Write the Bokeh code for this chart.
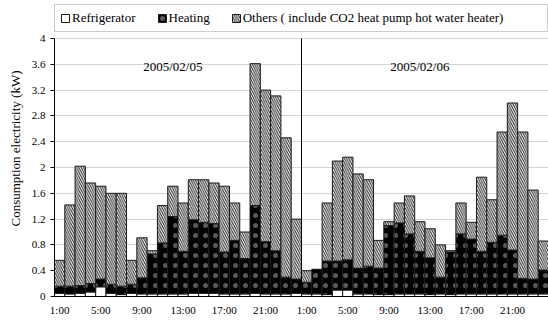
from bokeh.plotting import figure
from bokeh.models import Legend, LegendItem, FixedTicker, ColumnDataSource
from bokeh.embed import file_html
from bokeh.resources import INLINE
from bokeh.core.properties import value

# ---- data ----
refrigerator = [0.05, 0.04, 0.05, 0.07, 0.15, 0.05, 0.03, 0.05, 0.04, 0.04, 0.04, 0.04,
                0.04, 0.05, 0.05, 0.05, 0.04, 0.04, 0.04, 0.05, 0.04, 0.04, 0.04, 0.05,
                0.04, 0.04, 0.03, 0.10, 0.10, 0.04, 0.04, 0.03, 0.03, 0.04, 0.04, 0.04,
                0.03, 0.04, 0.03, 0.04, 0.04, 0.04, 0.04, 0.04, 0.04, 0.04, 0.04, 0.04]
heating = [0.11, 0.12, 0.12, 0.13, 0.12, 0.14, 0.13, 0.14, 0.25, 0.62, 0.79, 1.20,
           0.66, 1.14, 1.10, 1.08, 0.65, 0.83, 0.55, 1.36, 0.81, 0.67, 0.26, 0.22,
           0.18, 0.38, 0.52, 0.45, 0.47, 0.40, 0.43, 0.41, 1.07, 1.10, 0.93, 0.66,
           0.57, 0.26, 0.66, 0.93, 0.85, 0.66, 0.80, 0.91, 0.68, 0.24, 0.23, 0.37]
others = [0.40, 1.26, 1.85, 1.56, 1.44, 1.41, 1.44, 0.37, 0.62, 0.05, 0.58, 0.47,
          0.75, 0.62, 0.66, 0.63, 1.02, 0.58, 0.41, 2.20, 2.35, 2.40, 2.16, 0.93,
          0.18, 0.00, 0.90, 1.55, 1.59, 1.46, 1.34, 0.43, 0.06, 0.31, 0.59, 0.46,
          0.45, 0.50, 0.02, 0.48, 0.26, 1.15, 0.66, 1.60, 2.28, 2.27, 1.38, 0.45]
series_names = ["Refrigerator", "Heating", "Others ( include CO2 heat pump hot water heater)"]
dates = ["2005/02/05", "2005/02/06"]
x_tick_labels = ["1:00", "5:00", "9:00", "13:00", "17:00", "21:00",
                 "1:00", "5:00", "9:00", "13:00", "17:00", "21:00"]
y_ticks = [0, 0.4, 0.8, 1.2, 1.6, 2, 2.4, 2.8, 3.2, 3.6, 4]
y_tick_labels = ["0", "0.4", "0.8", "1.2", "1.6", "2", "2.4", "2.8", "3.2", "3.6", "4"]

n = len(refrigerator)
hours_per_day = n // len(dates)
xs = list(range(n))
src = ColumnDataSource(dict(x=xs, fridge=refrigerator, heating=heating, others=others))

FONT = "Liberation Serif"
Y_MAX = y_ticks[-1]
FRAME_H = 296          # pixels of plot frame (0..321-25)
TOP_GAP = 38           # pixels above the value 4 used by the legend
y_end = Y_MAX * FRAME_H / (FRAME_H - TOP_GAP)

p = figure(width=548, height=321, x_range=(-0.5, n - 0.5), y_range=(0, y_end),
           output_backend="svg", toolbar_location=None,
           min_border_left=54, min_border_right=0, min_border_top=0, min_border_bottom=25)
p.outline_line_color = None
p.background_fill_color = "white"

rs = p.vbar_stack(["fridge", "heating", "others"], x="x", width=1.0, source=src,
                  fill_color=["white", "black", "white"],
                  line_color="#1a1a1a", line_width=1,
                  hatch_pattern=[" ", ".", "\\"],
                  hatch_color=["white", "white", "#222222"],
                  hatch_alpha=[1.0, 0.35, 1.0],
                  hatch_scale=[6, 10, 4.5],
                  hatch_weight=[1, 0.3, 1])

# day divider
p.segment(x0=[hours_per_day - 0.5], y0=[0], x1=[hours_per_day - 0.5], y1=[Y_MAX],
          line_color="black", line_width=1)

# day labels
p.text(x=[d * hours_per_day + 11 for d in range(len(dates))], y=[3.56] * len(dates),
       text=dates, text_font=value(FONT), text_font_size="13px",
       text_align="center", text_baseline="middle", text_color="black")

# axes
p.xaxis.ticker = FixedTicker(ticks=list(range(0, n, 4)))
p.xaxis.major_label_overrides = {t: lab for t, lab in zip(range(0, n, 4), x_tick_labels)}
p.xaxis.major_tick_out = 0
p.xaxis.major_tick_in = 0
p.xaxis.minor_tick_out = 0
p.xaxis.minor_tick_in = 0
p.xaxis.major_label_standoff = 7
p.xaxis.axis_line_color = "black"

p.yaxis.ticker = FixedTicker(ticks=y_ticks)
p.yaxis.bounds = (0, Y_MAX)
p.yaxis.major_label_overrides = {t: lab for t, lab in zip(y_ticks, y_tick_labels)}
p.yaxis.major_tick_out = 4
p.yaxis.major_tick_in = 0
p.yaxis.minor_tick_out = 0
p.yaxis.minor_tick_in = 0
p.yaxis.major_label_standoff = 5
p.yaxis.axis_label = "Consumption electricity (kW)"
p.yaxis.axis_label_text_font_style = "normal"
p.yaxis.axis_label_text_font_size = "13px"
p.yaxis.axis_label_standoff = 6
p.yaxis.axis_line_color = "black"

for ax in (p.xaxis, p.yaxis):
    ax.major_label_text_font = FONT
    ax.major_label_text_font_size = "11px"
    ax.major_label_text_color = "black"
    ax.axis_label_text_font = FONT
    ax.axis_label_text_color = "black"
    ax.major_tick_line_color = "black"

p.xgrid.grid_line_color = None
p.ygrid.ticker = FixedTicker(ticks=y_ticks)
p.ygrid.grid_line_color = "#d4d4d4"

labels = list(series_names)
labels[-1] = labels[-1] + "\u2003" * 3
legend = Legend(items=[LegendItem(label=lab, renderers=[r]) for lab, r in zip(labels, rs)],
                orientation="horizontal", location=(0, FRAME_H - 32),
                glyph_width=10, glyph_height=10, label_standoff=2, spacing=21,
                padding=5, margin=0, label_height=11,
                label_text_font=FONT, label_text_font_size="13px", label_text_color="black",
                border_line_color="#999999", border_line_width=1,
                background_fill_color="white", background_fill_alpha=1)
p.add_layout(legend, "center")

open("out.html", "w").write(file_html(p, INLINE))
